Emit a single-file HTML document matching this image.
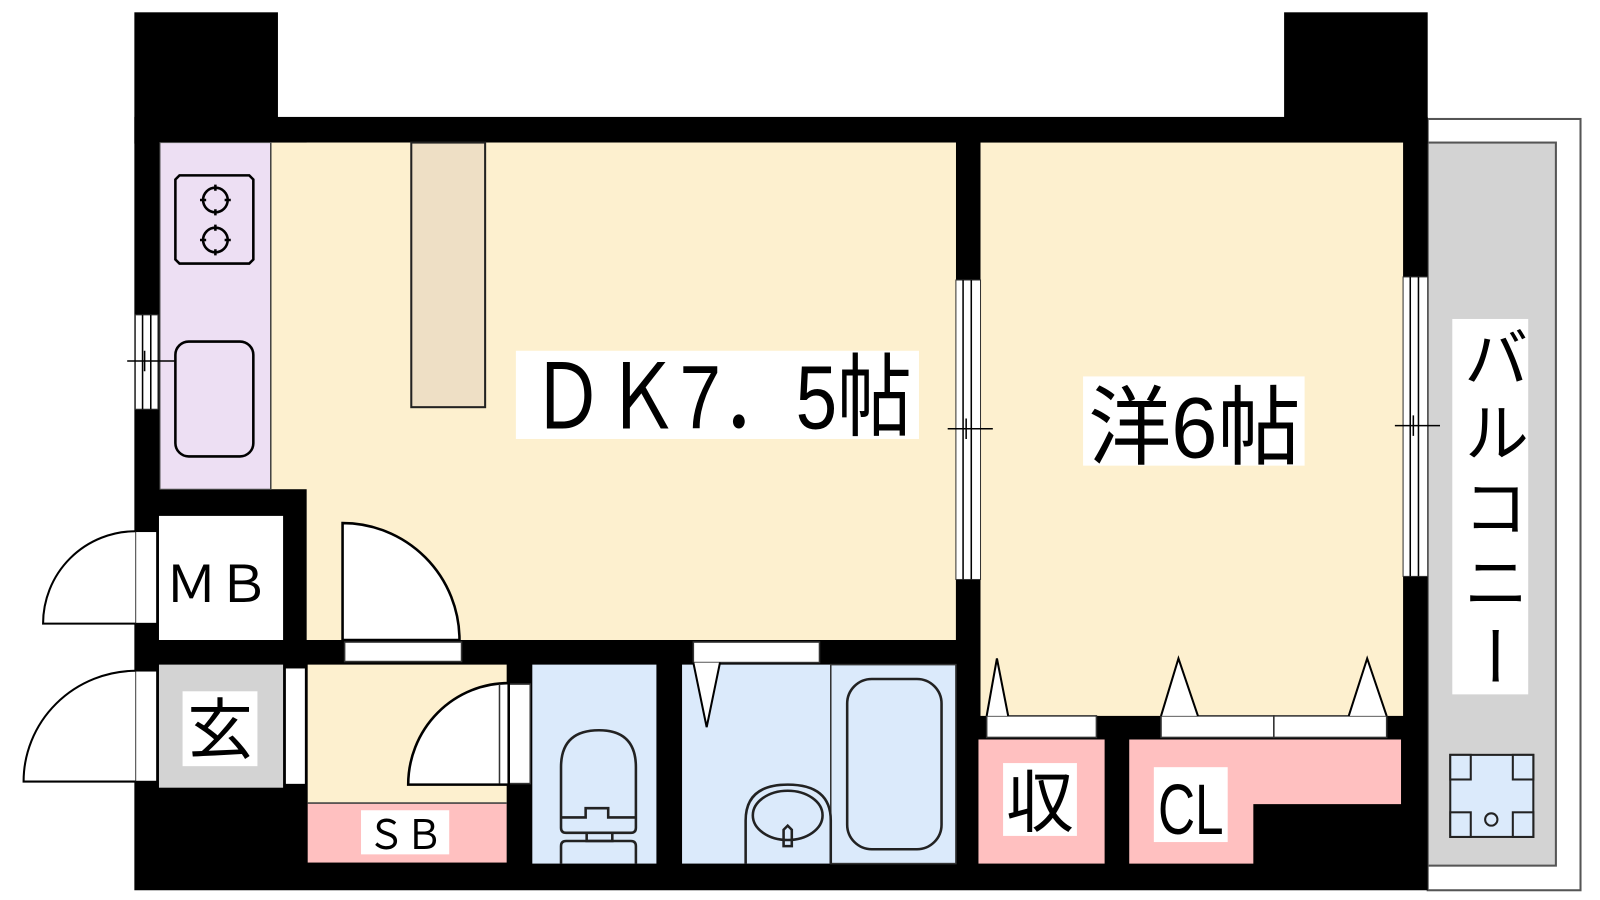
<!DOCTYPE html>
<html><head><meta charset="utf-8"><style>
html,body{margin:0;padding:0;background:#fff;width:1600px;height:900px;overflow:hidden}
svg{display:block}
text{font-family:"Liberation Sans","Noto Sans CJK JP",sans-serif;fill:#000}
</style></head><body>
<svg width="1600" height="900" viewBox="0 0 1560 877.5" xmlns="http://www.w3.org/2000/svg">
<!-- balcony -->
<rect x="1392" y="116" width="149" height="752" fill="#fff" stroke="#555" stroke-width="2"/>
<rect x="1392" y="139" width="125" height="705" fill="#d3d3d3" stroke="#555" stroke-width="2"/>
<!-- black mass -->
<rect x="131" y="12" width="140" height="128" fill="#000"/>
<rect x="1252" y="12" width="140" height="128" fill="#000"/>
<rect x="131" y="114" width="1261" height="754" fill="#000"/>
<!-- kitchen -->
<rect x="156" y="139" width="108" height="338" fill="#eddff3" stroke="#555" stroke-width="1"/>
<!-- DK -->
<rect x="264" y="139" width="668" height="338" fill="#fdf0cf"/>
<rect x="299" y="139" width="633" height="485" fill="#fdf0cf"/>
<line x1="264" y1="139" x2="264" y2="477" stroke="#444" stroke-width="1.5"/>
<!-- island -->
<rect x="401" y="139" width="72" height="258" fill="#eedfc5" stroke="#222" stroke-width="2"/>
<!-- stove -->
<path d="M175 171 H243 L247 175 V253 L243 257 H175 L171 253 V175 Z" fill="none" stroke="#000" stroke-width="2.5"/>
<g fill="none" stroke="#000" stroke-width="2.5">
<circle cx="210" cy="195" r="12"/><circle cx="210" cy="234" r="12"/>
<path d="M210 180v6M210 204v6M195 195h6M219 195h6M210 219v6M210 243v6M195 234h6M219 234h6"/>
</g>
<rect x="171" y="333" width="76" height="112" rx="13" fill="none" stroke="#000" stroke-width="2.5"/>
<!-- left window -->
<rect x="132" y="307" width="22" height="92" fill="#fff" stroke="#333" stroke-width="1"/>
<path d="M139 307V399M147 307V399M124 352H170M141 342V362" stroke="#000" stroke-width="1.5"/>
<!-- MB -->
<rect x="155" y="503" width="121" height="121" fill="#fff"/>
<text x="161" y="587" font-size="50" textLength="102" lengthAdjust="spacingAndGlyphs">ＭＢ</text>
<rect x="132" y="518" width="21" height="90" fill="#fff" stroke="#000" stroke-width="1.5"/>
<path d="M132 518 A90 90 0 0 0 42 608 H132" fill="#fff" stroke="#000" stroke-width="2"/>
<!-- DK door -->
<rect x="336" y="626" width="114" height="19" fill="#fff" stroke="#333" stroke-width="1.5"/>
<path d="M334 624 V510 A114 114 0 0 1 448 624 Z" fill="#fff" stroke="#000" stroke-width="2.5"/>
<!-- genkan -->
<rect x="155" y="648" width="121" height="120" fill="#d3d3d3"/>
<rect x="178" y="674" width="73" height="73" fill="#fff"/>
<text x="214.5" y="734" font-size="64" text-anchor="middle">玄</text>
<rect x="132" y="654" width="21" height="108" fill="#fff" stroke="#000" stroke-width="1.5"/>
<path d="M132 654 A110 108 0 0 0 23 762 H132" fill="#fff" stroke="#000" stroke-width="2"/>
<rect x="278" y="651" width="20" height="114" fill="#fff" stroke="#000" stroke-width="1.5"/>
<!-- hall & SB -->
<rect x="300" y="648" width="194" height="135" fill="#fdf0cf"/>
<rect x="300" y="783" width="194" height="58" fill="#ffc0c0"/>
<line x1="300" y1="783" x2="494" y2="783" stroke="#444" stroke-width="1.5"/>
<rect x="352" y="790" width="86" height="43" fill="#fff"/>
<text x="358" y="828" font-size="40" textLength="74" lengthAdjust="spacingAndGlyphs">ＳＢ</text>
<rect x="487" y="667" width="30" height="97" fill="#fff" stroke="#333" stroke-width="1.5"/>
<path d="M496 666 V765 H398 A98 99 0 0 1 496 666 Z" fill="#fff" stroke="#000" stroke-width="2.5"/>
<line x1="487" y1="667" x2="487" y2="764" stroke="#333" stroke-width="1.5"/>
<!-- toilet -->
<rect x="519" y="648" width="121" height="194" fill="#dbeafb"/>
<g fill="none" stroke="#222" stroke-width="2.5">
<path d="M547 807 V748 Q547 712 584 712 Q620 712 620 748 V807 Q620 812 615 812 H552 Q547 812 547 807 Z"/>
<path d="M547 797 H571 V788 H593 V797 H620"/>
<path d="M572 812 V820 H597 V812"/>
<path d="M547 842 V825 Q547 820 552 820 H615 Q620 820 620 825 V842"/>
</g>
<!-- washroom -->
<rect x="665" y="648" width="145" height="194" fill="#dbeafb"/>
<rect x="810" y="648" width="122" height="194" fill="#dbeafb" stroke="#333" stroke-width="1.5"/>
<rect x="676" y="626" width="123" height="20" fill="#fff" stroke="#333" stroke-width="1.5"/>
<path d="M676 646 L689 709 L702 646" fill="#fff" stroke="#000" stroke-width="2"/>
<g fill="none" stroke="#222" stroke-width="2.5">
<path d="M727 842 V800 Q727 765 768 765 Q810 765 810 800 V842"/>
<ellipse cx="768" cy="795" rx="34" ry="24"/>
<path d="M764 825 V809 L768 805 L772 809 V825 Z"/>
<rect x="826" y="662" width="92" height="166" rx="24"/>
</g>
<!-- western room -->
<rect x="956" y="139" width="412" height="559" fill="#fdf0cf"/>
<!-- middle window -->
<rect x="932" y="273" width="24" height="292" fill="#fff" stroke="#333" stroke-width="1"/>
<path d="M939 273V565M947 273V565M924 418H968M942 408V428" stroke="#000" stroke-width="1.5"/>
<!-- right window -->
<rect x="1368" y="270" width="24" height="292" fill="#fff" stroke="#333" stroke-width="1"/>
<path d="M1375 270V562M1383 270V562M1360 415H1404M1378 405V425" stroke="#000" stroke-width="1.5"/>
<!-- closets -->
<rect x="954" y="721" width="123" height="121" fill="#ffc0c0"/>
<path d="M1101 721 H1366 V784 H1222 V842 H1101 Z" fill="#ffc0c0"/>
<rect x="962" y="698" width="107" height="21" fill="#fff" stroke="#333" stroke-width="1.5"/>
<rect x="1132" y="698" width="110" height="21" fill="#fff" stroke="#333" stroke-width="1.5"/>
<rect x="1242" y="698" width="110" height="21" fill="#fff" stroke="#333" stroke-width="1.5"/>
<g fill="#fff" stroke="#000" stroke-width="2">
<path d="M962 698 L972 642 L983 698"/>
<path d="M1132 698 L1149 642 L1168 698"/>
<path d="M1315 698 L1333 642 L1352 698"/>
</g>
<rect x="978" y="744" width="72" height="71" fill="#fff"/>
<text x="1014" y="806" font-size="66" text-anchor="middle">収</text>
<rect x="1125" y="748" width="72" height="73" fill="#fff"/>
<text x="1129" y="813" font-size="70" textLength="64" lengthAdjust="spacingAndGlyphs">CL</text>
<!-- room labels -->
<rect x="503" y="342" width="393" height="86" fill="#fff"/>
<text x="517" y="418" font-size="88" textLength="372" lengthAdjust="spacingAndGlyphs">ＤＫ7．5帖</text>
<rect x="1056" y="367" width="216" height="87" fill="#fff"/>
<text x="1061" y="446" font-size="84" textLength="207" lengthAdjust="spacingAndGlyphs">洋6帖</text>
<!-- balcony label -->
<rect x="1416" y="311" width="74" height="366" fill="#fff"/>
<text x="1453" y="316" font-size="64" letter-spacing="9" style="writing-mode:vertical-rl;text-orientation:upright">バルコニー</text>
<!-- washer -->
<g stroke="#222" stroke-width="2">
<rect x="1414" y="736" width="81" height="80" fill="#dbeafb"/>
<rect x="1414" y="736" width="20" height="24" fill="#dbeafb"/>
<rect x="1475" y="736" width="20" height="24" fill="#dbeafb"/>
<rect x="1414" y="792" width="20" height="24" fill="#dbeafb"/>
<rect x="1475" y="792" width="20" height="24" fill="#dbeafb"/>
<circle cx="1454" cy="799" r="6" fill="none"/>
</g>
</svg>
</body></html>
